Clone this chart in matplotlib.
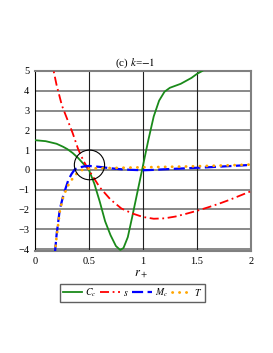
import numpy as np
import matplotlib
matplotlib.use("Agg")
import matplotlib.pyplot as plt
from matplotlib.patches import Ellipse

plt.rcParams['font.family'] = ['Liberation Serif', 'DejaVu Serif']
plt.rcParams['mathtext.fontset'] = 'stix'

# C_c (green)
x_cc = [0, 0.1, 0.2, 0.26, 0.3, 0.35, 0.4, 0.45, 0.5, 0.55, 0.6, 0.62, 0.65, 0.7, 0.75, 0.79,
        0.82, 0.86, 0.9, 0.95, 1.0, 1.05, 1.1, 1.15, 1.2, 1.25, 1.3, 1.35, 1.4, 1.45, 1.5, 1.55]
y_cc = [1.5, 1.45, 1.32, 1.17, 1.05, 0.85, 0.6, 0.3, 0.0, -0.7, -1.6, -2.0, -2.6, -3.3, -3.85, -4.05,
        -3.95, -3.4, -2.4, -1.1, 0.2, 1.5, 2.7, 3.5, 3.95, 4.15, 4.25, 4.35, 4.5, 4.65, 4.85, 5.0]

# s (red)
x_s = [0.15, 0.2, 0.25, 0.3, 0.35, 0.4, 0.45, 0.5, 0.55, 0.6, 0.7, 0.8, 0.9, 1.0,
       1.1, 1.2, 1.3, 1.4, 1.5, 1.6, 1.7, 1.8, 1.9, 2.0]
y_s = [5.6, 4.3, 3.25, 2.55, 1.85, 1.05, 0.45, -0.02, -0.45, -0.88, -1.5, -1.95, -2.2, -2.38,
       -2.47, -2.45, -2.36, -2.22, -2.07, -1.9, -1.72, -1.52, -1.3, -1.08]

# M_c (blue)
x_m = [0.185, 0.2, 0.23, 0.26, 0.28, 0.31, 0.34, 0.37, 0.41, 0.45, 0.5, 0.6, 0.7, 0.8, 0.9,
       1.0, 1.1, 1.2, 1.4, 1.6, 1.8, 2.0]
y_m = [-4.2, -3.3, -2.0, -1.35, -1.0, -0.5, -0.2, 0.03, 0.12, 0.17, 0.2, 0.15, 0.08, 0.03, 0.0,
       -0.02, 0.0, 0.03, 0.08, 0.13, 0.19, 0.25]

# T (orange)
x_t = [0.185, 0.2, 0.23, 0.26, 0.3, 0.33, 0.36, 0.39, 0.42, 0.45, 0.5, 0.57, 0.65, 0.76, 1.0,
       1.2, 1.4, 1.6, 1.8, 2.0]
y_t = [-4.2, -3.4, -2.1, -1.4, -0.85, -0.58, -0.35, -0.17, -0.05, 0.03, 0.06, 0.08, 0.09, 0.1, 0.13,
       0.15, 0.17, 0.2, 0.23, 0.27]

fig = plt.figure(figsize=(2.73, 3.53), dpi=100)
ax = fig.add_axes([0.128, 0.289, 0.791, 0.51])

for yv in range(-4, 6):
    ax.axhline(yv, color='#808080', lw=1.3, zorder=1)
for xv in [0.5, 1.0, 1.5]:
    ax.axvline(xv, color='#202020', lw=0.8, zorder=1)

ax.plot(x_cc, y_cc, color='#1a8a1a', lw=1.3, label='$C_c$', zorder=3)
ax.plot(x_s, y_s, color='red', lw=1.3, ls=(0, (5, 2, 1, 2)), label='$s$', zorder=3)
ax.plot(x_m, y_m, color='blue', lw=1.6, ls=(0, (5, 2)), label='$M_c$', zorder=3)
ax.plot(x_t, y_t, color='orange', lw=2.0, ls=(0, (0.1, 2.4)), dash_capstyle='round',
        label='$T$', zorder=4)

ax.add_patch(Ellipse((0.505, 0.25), 0.28, 1.5, fill=False, color='black', lw=0.8, zorder=5))

ax.set_xlim(0, 2)
ax.set_ylim(-4.1, 5.0)
ax.set_xticks([0, 0.5, 1, 1.5, 2])
ax.set_xticklabels(['0', '0.5', '1', '1.5', '2'])
ax.set_yticks(range(-4, 6))
ax.set_yticklabels([str(v).replace('-', '\u2212') for v in range(-4, 6)])
ax.tick_params(length=0, labelsize=7.5, pad=4)

for side in ['top', 'right', 'bottom']:
    ax.spines[side].set_color('#808080')
    ax.spines[side].set_linewidth(1.5)
ax.spines['left'].set_color('black')
ax.spines['left'].set_linewidth(0.8)

ax.set_title(r'(c) $k$=$\mathit{-1}$', fontsize=8, pad=4, x=0.463)
fig.text(0.515, 0.225, '$r_+$', fontsize=9, ha='center', va='center')

leg = fig.legend(loc='center', bbox_to_anchor=(0.485, 0.17), ncol=4, fontsize=7,
                 handlelength=2.0, handletextpad=0.3, columnspacing=0.4,
                 borderpad=0.25, fancybox=False, edgecolor='#606060', framealpha=1)
leg.get_frame().set_linewidth(1.0)

fig.savefig('out.png', dpi=100)
